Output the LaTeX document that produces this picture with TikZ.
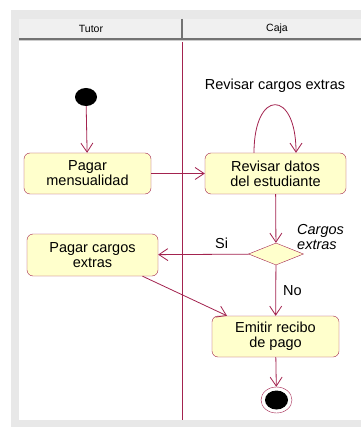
\documentclass[tikz,border=0pt]{standalone}
\usepackage{fontspec}
\setmainfont{Liberation Sans}
\usetikzlibrary{shapes.geometric,arrows.meta}
\definecolor{linea}{HTML}{A3234F}
\definecolor{caja}{HTML}{FFFFCC}
\definecolor{fondo}{HTML}{E8E8E8}
\definecolor{cabeza}{HTML}{F0F0F0}

\begin{document}
\begin{tikzpicture}[x=1pt,y=-1pt,
  activity/.style={draw=linea,fill=caja,rounded corners=6pt,align=center,
    inner sep=0pt,font=\fontsize{14.5}{15}\selectfont},
  flow/.style={draw=linea,line width=0.8pt,-{Straight Barb[length=9pt,width=12pt]}},
  label/.style={font=\fontsize{14.5}{15}\selectfont,inner sep=0pt}]
\useasboundingbox (0,0) rectangle (361,427);
% frame and swimlanes
\fill[fondo] (11,10) rectangle (361,427);
\fill[white] (19,19) rectangle (361,420);
\fill[cabeza] (19,19) rectangle (361,38);
\draw[gray!90!black,line width=2pt] (19,39) -- (361,39);
\draw[gray!40,line width=1pt] (19,41) -- (361,41);
\draw[gray!90!black,line width=2pt] (182,19) -- (182,38);
\node[font=\fontsize{10.5}{12}\selectfont] (tutor) at (91,29) {Tutor};
\node[font=\fontsize{10.5}{12}\selectfont] (caja) at (277,29) {Caja};
\draw[linea,line width=0.8pt] (182,42) -- (182,420);
% start and activities
\node[ellipse,fill=black,minimum width=22pt,minimum height=18pt,inner sep=0pt] (inicio) at (86,97) {};
\node[activity,minimum width=127pt,minimum height=41pt] (pagar) at (87.5,173.5) {Pagar\\mensualidad};
\node[activity,minimum width=141pt,minimum height=41pt] (revisar) at (275.5,173.5) {Revisar datos\\del estudiante};
\node[diamond,draw=linea,fill=caja,minimum width=55pt,minimum height=22pt,inner sep=0pt] (decision) at (276,254) {};
\node[activity,minimum width=131pt,minimum height=42pt] (cargos) at (92.5,255) {Pagar cargos\\extras};
\node[activity,minimum width=127pt,minimum height=41pt] (emitir) at (275.5,336.5) {Emitir recibo\\de pago};
% end node
\node[ellipse,draw=linea,fill=white,minimum width=31pt,minimum height=26pt,inner sep=0pt] (fin) at (276.5,400) {};
\node[ellipse,fill=black,minimum width=23pt,minimum height=19pt,inner sep=0pt] at (fin) {};
% flows
\draw[flow] (inicio) -- (pagar);
\draw[flow] (pagar) -- (revisar);
\draw[flow] ([xshift=-21.5pt]revisar.north) .. controls +(0,-64) and +(0,-64) .. ([xshift=20.5pt]revisar.north);
\node[label] (revtxt) at (275,86) {Revisar cargos extras};
\draw[flow] (revisar) -- (decision);
\node[label,font=\itshape\fontsize{14.5}{15}\selectfont,align=left,anchor=west] (cond) at (297,237) {Cargos\\extras};
\draw[flow] (decision) -- (cargos) node[label,pos=0.3,above=5pt] {Si};
\draw[flow] (decision) -- (emitir) node[label,pos=0.5,right=7pt] {No};
\draw[flow] ([xshift=50pt]cargos.south) -- ([xshift=-48.5pt]emitir.north);
\draw[flow] (emitir) -- (fin);
\end{tikzpicture}
\end{document}
